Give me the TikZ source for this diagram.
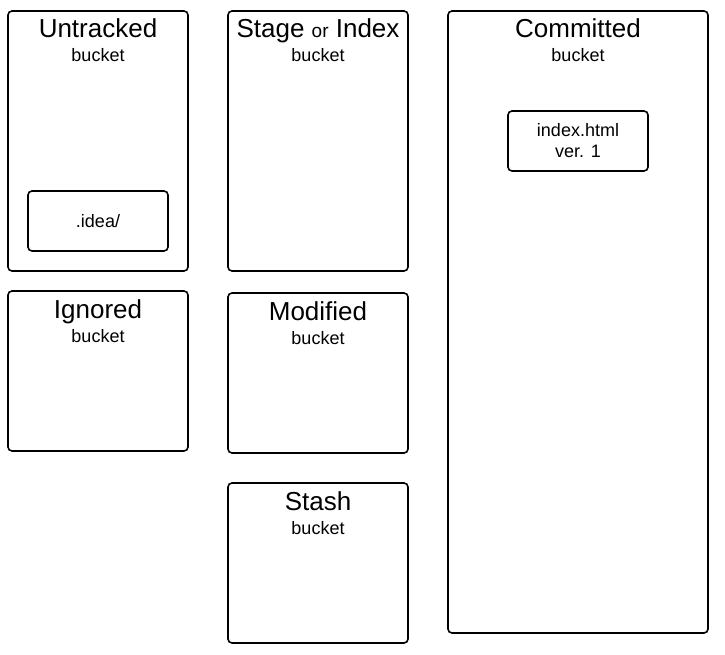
\documentclass[tikz,border=0pt]{standalone}
\usepackage{fontspec}
\setmainfont{Liberation Sans}
\usetikzlibrary{positioning}

\tikzset{
    bucket/.style={draw, line width=1.6pt, rounded corners=4pt, inner sep=0pt},
    item/.style={draw, line width=1.6pt, rounded corners=4pt, inner sep=0pt,
        minimum width=140pt, minimum height=60pt, align=center,
        font=\fontsize{18}{21}\selectfont},
    title/.style={anchor=base, font=\fontsize{26}{30}\selectfont},
    sub/.style={anchor=base, font=\fontsize{18}{21}\selectfont}
}

\begin{document}
\begin{tikzpicture}[x=1pt,y=-1pt]
    \useasboundingbox (0,0) rectangle (725,655);

    % left column
    \node[bucket, minimum width=180pt, minimum height=260pt] (untracked) at (98,141) {};
    \node[title] (untrackedT) at (98,38) {Untracked};
    \node[sub] (untrackedB) at (98,62) {bucket};
    \node[item] (idea) at (98,221) {.idea/};

    \node[bucket, minimum width=180pt, minimum height=160pt] (ignored) at (98,371) {};
    \node[title] (ignoredT) at (98,318) {Ignored};
    \node[sub] (ignoredB) at (98,342) {bucket};

    % middle column
    \node[bucket, minimum width=180pt, minimum height=260pt] (stage) at (318,141) {};
    \node[title] (stageT) at (318,38) {Stage {\fontsize{19}{22}\selectfont or} Index};
    \node[sub] (stageB) at (318,62) {bucket};

    \node[bucket, minimum width=180pt, minimum height=160pt] (modified) at (318,373) {};
    \node[title] (modifiedT) at (318,320) {Modified};
    \node[sub] (modifiedB) at (318,344) {bucket};

    \node[bucket, minimum width=180pt, minimum height=160pt] (stash) at (318,563) {};
    \node[title] (stashT) at (318,510) {Stash};
    \node[sub] (stashB) at (318,534) {bucket};

    % right column
    \node[bucket, minimum width=260pt, minimum height=622pt] (committed) at (578,322) {};
    \node[title] (committedT) at (578,38) {Committed};
    \node[sub] (committedB) at (578,62) {bucket};
    \node[item] (index) at (578,141) {index.html\\ver. 1};

\end{tikzpicture}
\end{document}
